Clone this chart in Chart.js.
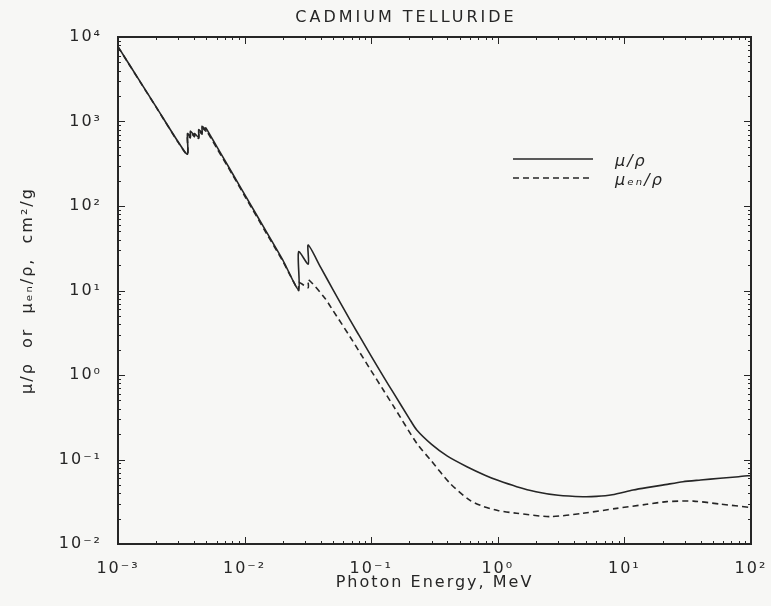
<!DOCTYPE html>
<html>
<head>
<meta charset="utf-8">
<script src="https://cdn.jsdelivr.net/npm/chart.js@4.4.1/dist/chart.umd.min.js"></script>
<style>
  html, body { margin: 0; padding: 0; background: #f7f7f5; }
  #wrap { width: 771px; height: 606px; }
</style>
</head>
<body>
<div id="wrap"><canvas id="chart" width="771" height="606"></canvas></div>
<script>
// photon energy (MeV) and mass attenuation
const energyMu = [0.001, 0.0015, 0.002, 0.003, 0.003538, 0.003538, 0.003727, 0.003727, 0.004018, 0.004018,
  0.004341, 0.004341, 0.004612, 0.004612, 0.004939, 0.004939, 0.006, 0.008, 0.01, 0.015, 0.02,
  0.02671, 0.02671, 0.03181, 0.03181, 0.04, 0.05, 0.068, 0.08, 0.1, 0.125, 0.15, 0.2, 0.229, 0.3,
  0.4, 0.57, 0.8, 1.0, 1.41, 2, 3, 4.7, 6, 8, 11.7, 15, 20, 29, 40, 57, 80, 100];
const muRho = [7700, 2940, 1490, 568, 410, 720, 660, 770, 680, 720,
  650, 800, 740, 880, 800, 840, 511, 244, 137, 48.5, 23.1,
  10.3, 28.8, 20.5, 34.5, 18.6, 10.2, 4.48, 2.96, 1.67, 0.955, 0.614, 0.305, 0.2234, 0.151,
  0.1096, 0.0822, 0.0648, 0.0567, 0.0477, 0.0416, 0.0377, 0.0363, 0.0366, 0.0383, 0.0435, 0.0465, 0.0497, 0.0546, 0.0572, 0.060, 0.0625, 0.0648];

// energy absorption coefficient
const energyMuEn = [0.001, 0.0015, 0.002, 0.003, 0.003538, 0.003538, 0.003727, 0.003727, 0.004018, 0.004018,
  0.004341, 0.004341, 0.004612, 0.004612, 0.004939, 0.004939, 0.006, 0.008, 0.01, 0.015, 0.02,
  0.02671, 0.02671, 0.03181, 0.03181, 0.0431, 0.05, 0.068, 0.08, 0.1, 0.1247, 0.15, 0.229, 0.3,
  0.419, 0.6, 0.768, 1.0, 1.41, 2.58, 4.7, 8.7, 15, 21.6, 35, 57, 100];
const muEnRho = [7650, 2920, 1480, 562, 405, 690, 640, 740, 660, 700,
  630, 770, 710, 840, 770, 800, 490, 236, 132, 46.5, 22.3,
  10.0, 12.5, 10.8, 13.5, 8.1, 5.77, 2.84, 1.92, 1.12, 0.664, 0.428, 0.1556, 0.0954,
  0.0523, 0.033, 0.0278, 0.0249, 0.0231, 0.0211, 0.0231, 0.0264, 0.0295, 0.0317, 0.0322, 0.0297, 0.027];

const xDecades = [-3, -2, -1, 0, 1, 2];
const xTickLabels = ['10⁻³', '10⁻²', '10⁻¹', '10⁰', '10¹', '10²'];
const yDecades = [-2, -1, 0, 1, 2, 3, 4];
const yTickLabels = ['10⁻²', '10⁻¹', '10⁰', '10¹', '10²', '10³', '10⁴'];

const chartTitle = 'CADMIUM TELLURIDE';
const xTitle = 'Photon Energy, MeV';
const yTitle = 'μ/ρ  or  μₑₙ/ρ,  cm²/g';
const legendLabels = ['μ/ρ', 'μₑₙ/ρ'];

const ink = '#262626';
const FONT = '"DejaVu Sans", sans-serif';

function decadeLabel(v, decades, labels) {
  const l = Math.log10(v);
  const r = Math.round(l);
  if (Math.abs(l - r) > 1e-6) return '';
  const i = decades.indexOf(r);
  return i >= 0 ? labels[i] : '';
}

const decor = {
  id: 'decor',
  beforeDraw(chart) {
    const ctx = chart.ctx;
    ctx.save();
    ctx.fillStyle = '#f7f7f5';
    ctx.fillRect(0, 0, chart.width, chart.height);
    ctx.restore();
    ctx.letterSpacing = '2px';
  },
  afterDraw(chart) {
    const ctx = chart.ctx;
    const a = chart.chartArea;
    const xs = chart.scales.x, ys = chart.scales.y;
    ctx.save();
    ctx.strokeStyle = ink;
    // frame
    ctx.lineWidth = 2;
    ctx.strokeRect(a.left, a.top, a.right - a.left, a.bottom - a.top);
    // inner ticks on all four sides
    ctx.lineWidth = 1;
    ctx.beginPath();
    for (let e = xDecades[0]; e <= xDecades[xDecades.length - 1]; e++) {
      for (let m = 1; m < 10; m++) {
        const v = m * Math.pow(10, e);
        if (v > 100.0001) break;
        const px = Math.round(xs.getPixelForValue(v)) + 0.5;
        const len = m === 1 ? 7 : 3;
        ctx.moveTo(px, a.bottom); ctx.lineTo(px, a.bottom - len);
        ctx.moveTo(px, a.top); ctx.lineTo(px, a.top + len);
      }
    }
    for (let e = yDecades[0]; e <= yDecades[yDecades.length - 1]; e++) {
      for (let m = 1; m < 10; m++) {
        const v = m * Math.pow(10, e);
        if (v > 10000.001) break;
        const py = Math.round(ys.getPixelForValue(v)) + 0.5;
        const len = m === 1 ? 7 : 3;
        ctx.moveTo(a.left, py); ctx.lineTo(a.left + len, py);
        ctx.moveTo(a.right, py); ctx.lineTo(a.right - len, py);
      }
    }
    ctx.stroke();

    // title
    ctx.fillStyle = ink;
    ctx.font = '16px ' + FONT;
    ctx.letterSpacing = '3px';
    ctx.textAlign = 'center';
    ctx.textBaseline = 'middle';
    ctx.fillText(chartTitle, 406, 18);

    // legend
    const ds = chart.data.datasets;
    ctx.letterSpacing = '2px';
    ctx.textAlign = 'left';
    ctx.font = 'italic 16px ' + FONT;
    const rows = [159, 178];
    ds.forEach((d, i) => {
      ctx.save();
      ctx.strokeStyle = d.borderColor;
      ctx.lineWidth = d.borderWidth;
      ctx.setLineDash(d.borderDash || []);
      ctx.beginPath();
      ctx.moveTo(513, rows[i]);
      ctx.lineTo(593, rows[i]);
      ctx.stroke();
      ctx.restore();
      ctx.fillText(legendLabels[i], 615, rows[i] + 3);
    });
    ctx.restore();
  }
};

new Chart(document.getElementById('chart'), {
  type: 'line',
  data: {
    datasets: [
      {
        label: legendLabels[0],
        data: energyMu.map((e, i) => ({ x: e, y: muRho[i] })),
        borderColor: ink,
        borderWidth: 1.6,
        pointRadius: 0,
        tension: 0.25
      },
      {
        label: legendLabels[1],
        data: energyMuEn.map((e, i) => ({ x: e, y: muEnRho[i] })),
        borderColor: ink,
        borderWidth: 1.6,
        borderDash: [6, 4],
        pointRadius: 0,
        tension: 0.25
      }
    ]
  },
  options: {
    responsive: false,
    animation: false,
    devicePixelRatio: 1,
    layout: { padding: { top: 37, right: 20, left: 0, bottom: 0 } },
    plugins: {
      legend: { display: false },
      tooltip: { enabled: false },
      title: { display: false }
    },
    scales: {
      x: {
        type: 'logarithmic',
        min: 0.001,
        max: 100,
        afterFit: s => { s.height = 62; s.paddingLeft = 0; s.paddingRight = 0; },
        grid: { display: false, drawTicks: false },
        border: { display: false },
        ticks: {
          autoSkip: false,
          maxRotation: 0,
          padding: 15,
          color: ink,
          font: { family: FONT, size: 16 },
          callback: v => decadeLabel(v, xDecades, xTickLabels)
        },
        title: {
          display: true,
          text: xTitle,
          color: ink,
          font: { family: FONT, size: 16 },
          padding: { top: 0, bottom: 14 }
        }
      },
      y: {
        type: 'logarithmic',
        min: 0.01,
        max: 10000,
        afterFit: s => { s.width = 118; s.paddingTop = 0; s.paddingBottom = 0; },
        grid: { display: false, drawTicks: false },
        border: { display: false },
        ticks: {
          autoSkip: false,
          padding: 16,
          color: ink,
          font: { family: FONT, size: 16 },
          callback: v => decadeLabel(v, yDecades, yTickLabels)
        },
        title: {
          display: true,
          text: yTitle,
          color: ink,
          font: { family: FONT, size: 16 },
          padding: { top: 18, bottom: 0 }
        }
      }
    }
  },
  plugins: [decor]
});
</script>
</body>
</html>
